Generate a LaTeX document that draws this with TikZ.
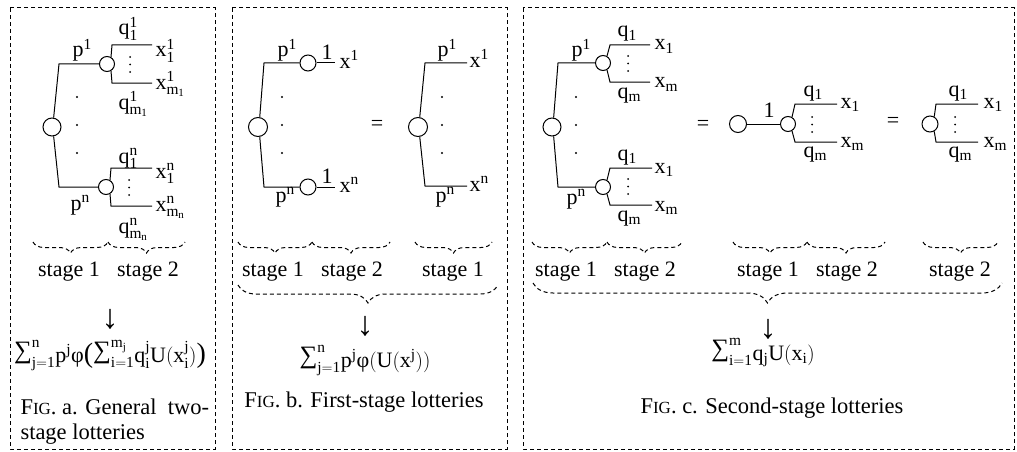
\documentclass[tikz,border=0pt]{standalone}
\usepackage{amsmath}
\usepackage{fontspec}
\setmainfont{Liberation Serif}
\setmathrm{Liberation Serif}
\usetikzlibrary{decorations.pathreplacing}
\newcommand\bigp[1]{\text{\fontsize{28}{28}\selectfont #1}}
\newcommand\SIG{\text{\raisebox{3.5pt}{\fontsize{25}{25}\selectfont ∑}}}
\newcommand\darrow{{\fontsize{34}{34}\selectfont ↓}}
\begin{document}
\begin{tikzpicture}[x=1pt,y=-1pt,line width=1pt,
  every node/.style={inner sep=0pt,font=\fontsize{22}{26}\selectfont},
  chance/.style={draw,circle,minimum size=#1,inner sep=0pt},
  panel/.style={draw,dash pattern=on 4pt off 3pt},
  dotn/.style={circle,fill,minimum size=2.4pt,inner sep=0pt},
  vdot/.style={circle,fill,minimum size=2pt,inner sep=0pt},
  bw/.style={anchor=base west},
  dbrace/.style={decorate,decoration={brace,mirror,amplitude=#1},dash pattern=on 4pt off 3pt},
  capt/.style={font=\fontsize{22.5}{25}\selectfont}]
\useasboundingbox (0,0) rectangle (1017,452);
% ---------------- panels
\draw[panel] (10,8) rectangle (215,449);
\draw[panel] (232,8) rectangle (507,449);
\draw[panel] (523,8) rectangle (1014,449);
% ================= Panel a
\node[chance=18pt] (a0) at (52,127) {};
\node[chance=15pt] (a1) at (107,64) {};
\node[chance=15pt] (a2) at (106,187) {};
\coordinate (a0t) at (59,64);
\coordinate (a0b) at (59,187);
\draw (a0.80) -- (a0t) -- (a1.west);
\draw (a0.-80) -- (a0b) -- (a2.west);
\coordinate (a1u) at (112,45); \coordinate (a1ue) at (152,45);
\coordinate (a1d) at (112,83); \coordinate (a1de) at (152,83);
\coordinate (a2u) at (111,168); \coordinate (a2ue) at (152,168);
\coordinate (a2d) at (111,206); \coordinate (a2de) at (152,206);
\draw (a1.60) -- (a1u) -- (a1ue);
\draw (a1.-60) -- (a1d) -- (a1de);
\draw (a2.60) -- (a2u) -- (a2ue);
\draw (a2.-60) -- (a2d) -- (a2de);
\node[bw] (ap1) at (72,57) {$\mathrm{p^1}$};
\node[bw] (apn) at (70,210) {$\mathrm{p^n}$};
\node[bw] (aq11) at (118,35) {$\mathrm{q^1_1}$};
\node[bw] (ax11) at (155,57) {$\mathrm{x^1_1}$};
\node[vdot] (av1a) at (130,57) {}; \node[vdot] (av1b) at (130,64.5) {}; \node[vdot] (av1c) at (130,72) {};
\node[bw] (axm1) at (155,89) {$\mathrm{x^1_{m_1}}$};
\node[bw] (aqm1) at (118,109) {$\mathrm{q^1_{m_1}}$};
\node[bw] (aq1n) at (118,163) {$\mathrm{q^n_1}$};
\node[bw] (ax1n) at (155,178) {$\mathrm{x^n_1}$};
\node[vdot] (avna) at (129,180) {}; \node[vdot] (avnb) at (129,187.5) {}; \node[vdot] (avnc) at (129,195) {};
\node[bw] (axmn) at (155,211) {$\mathrm{x^n_{m_n}}$};
\node[bw] (aqmn) at (118,233) {$\mathrm{q^n_{m_n}}$};
\node[dotn] (ad1) at (77,97) {};
\node[dotn] (ad2) at (77,125) {};
\node[dotn] (ad3) at (77,153) {};
\coordinate (abr1) at (33,242); \coordinate (abr2) at (108,242); \coordinate (abr3) at (185,242);
\draw[dbrace=11pt] (abr1) -- (abr2);
\draw[dbrace=11pt] (abr2) -- (abr3);
\node (as1) at (69,272) {stage 1};
\node (as2) at (148,272) {stage 2};
\node (aar) at (110,319) {\darrow};
\node[anchor=base] (afa) at (110,362) {$\SIG^{\mathrm{n}}_{\mathrm{j=1}}\mathrm{p^j}\text{φ}\bigp{(}\SIG^{\mathrm{m_j}}_{\mathrm{i=1}}\mathrm{q^j_i}\mathrm{U(x^j_i)}\bigp{)}$};
\node[capt,anchor=north west,align=left] (aca) at (20,398) {F{\fontsize{17}{17}\selectfont IG}. a. General\ \ two-\\stage lotteries};
% ================= Panel b
\node[chance=19pt] (b0) at (258,127) {};
\node[chance=16pt] (b1) at (308,63) {};
\node[chance=16pt] (b2) at (308,187) {};
\coordinate (b0t) at (264,63); \coordinate (b0b) at (264,187);
\coordinate (b1e) at (335,63); \coordinate (b2e) at (335,187);
\draw (b0.80) -- (b0t) -- (b1.west);
\draw (b0.-80) -- (b0b) -- (b2.west);
\draw (b1.east) -- (b1e);
\draw (b2.east) -- (b2e);
\node (b1o) at (327,52) {1};
\node (b2o) at (327,176) {1};
\node[bw] (bx1) at (339,68) {$\mathrm{x^1}$};
\node[bw] (bxn) at (339,192) {$\mathrm{x^n}$};
\node[bw] (bp1) at (277,57) {$\mathrm{p^1}$};
\node[bw] (bpn) at (275,202) {$\mathrm{p^n}$};
\node[dotn] (bd1) at (282,97) {};
\node[dotn] (bd2) at (282,125) {};
\node[dotn] (bd3) at (282,153) {};
\node (beq) at (377,125) {=};
\node[chance=19pt] (b3) at (418,127) {};
\coordinate (b3t) at (425,63); \coordinate (b3te) at (467,63);
\coordinate (b3b) at (425,186); \coordinate (b3be) at (467,186);
\draw (b3.80) -- (b3t) -- (b3te);
\draw (b3.-80) -- (b3b) -- (b3be);
\node[bw] (bx1r) at (469,67) {$\mathrm{x^1}$};
\node[bw] (bxnr) at (469,191) {$\mathrm{x^n}$};
\node[bw] (bp1r) at (437,57) {$\mathrm{p^1}$};
\node[bw] (bpnr) at (435,202) {$\mathrm{p^n}$};
\node[dotn] (bd4) at (442,97) {};
\node[dotn] (bd5) at (442,125) {};
\node[dotn] (bd6) at (442,153) {};
\coordinate (bbr1) at (238,242); \coordinate (bbr2) at (312,242); \coordinate (bbr3) at (390,242);
\coordinate (bbr4) at (415,242); \coordinate (bbr5) at (492,242);
\draw[dbrace=11pt] (bbr1) -- (bbr2);
\draw[dbrace=11pt] (bbr2) -- (bbr3);
\draw[dbrace=11pt] (bbr4) -- (bbr5);
\node (bs1) at (273,272) {stage 1};
\node (bs2) at (352,272) {stage 2};
\node (bs3) at (453,272) {stage 1};
\coordinate (bB1) at (238,285); \coordinate (bB2) at (498,285);
\draw[dbrace=18pt] (bB1) -- (bB2);
\node (bar) at (365,326) {\darrow};
\node[anchor=base] (bfa) at (365,367) {$\SIG^{\mathrm{n}}_{\mathrm{j=1}}\mathrm{p^j}\text{φ}\mathrm{(U(x^j))}$};
\node[capt] (bca) at (364,402) {F{\fontsize{17}{17}\selectfont IG}. b. First-stage lotteries};
% ================= Panel c
\node[chance=18pt] (c0) at (552,127) {};
\node[chance=15pt] (c1) at (603,63) {};
\node[chance=15pt] (c2) at (603,187) {};
\coordinate (c0t) at (558,63); \coordinate (c0b) at (558,187);
\draw (c0.80) -- (c0t) -- (c1.west);
\draw (c0.-80) -- (c0b) -- (c2.west);
\coordinate (c1u) at (610,45); \coordinate (c1ue) at (650,45);
\coordinate (c1d) at (610,82); \coordinate (c1de) at (650,82);
\coordinate (c2u) at (610,168); \coordinate (c2ue) at (652,168);
\coordinate (c2d) at (610,205); \coordinate (c2de) at (652,205);
\draw (c1.60) -- (c1u) -- (c1ue);
\draw (c1.-60) -- (c1d) -- (c1de);
\draw (c2.60) -- (c2u) -- (c2ue);
\draw (c2.-60) -- (c2d) -- (c2de);
\node[bw] (cp1) at (571,57) {$\mathrm{p^1}$};
\node[bw] (cpn) at (566,204) {$\mathrm{p^n}$};
\node[bw] (cq1a) at (617,37) {$\mathrm{q_1}$};
\node[bw] (cx1a) at (654,50) {$\mathrm{x_1}$};
\node[vdot] (cvaa) at (628,56) {}; \node[vdot] (cvab) at (628,63.5) {}; \node[vdot] (cvac) at (628,71) {};
\node[bw] (cxma) at (654,88) {$\mathrm{x_m}$};
\node[bw] (cqma) at (617,98) {$\mathrm{q_m}$};
\node[bw] (cq1b) at (617,160) {$\mathrm{q_1}$};
\node[bw] (cx1b) at (654,173) {$\mathrm{x_1}$};
\node[vdot] (cvba) at (628,179) {}; \node[vdot] (cvbb) at (628,186.5) {}; \node[vdot] (cvbc) at (628,194) {};
\node[bw] (cxmb) at (654,211) {$\mathrm{x_m}$};
\node[bw] (cqmb) at (617,221) {$\mathrm{q_m}$};
\node[dotn] (cd1) at (576,97) {};
\node[dotn] (cd2) at (576,125) {};
\node[dotn] (cd3) at (576,153) {};
\node (ceq1) at (703,125) {=};
\node[chance=17pt] (c3) at (738,124) {};
\node[chance=15pt] (c4) at (788,124) {};
\draw (c3.east) -- (c4.west);
\node (c3o) at (769,110) {1};
\coordinate (c4u) at (795,104); \coordinate (c4ue) at (837,104);
\coordinate (c4d) at (795,142); \coordinate (c4de) at (837,142);
\draw (c4.60) -- (c4u) -- (c4ue);
\draw (c4.-60) -- (c4d) -- (c4de);
\node[bw] (cq1c) at (803,96) {$\mathrm{q_1}$};
\node[bw] (cx1c) at (840,108) {$\mathrm{x_1}$};
\node[vdot] (cvca) at (812,117) {}; \node[vdot] (cvcb) at (812,124.5) {}; \node[vdot] (cvcc) at (812,132) {};
\node[bw] (cxmc) at (840,147) {$\mathrm{x_m}$};
\node[bw] (cqmc) at (803,157) {$\mathrm{q_m}$};
\node (ceq2) at (893,122) {=};
\node[chance=16pt] (c5) at (930,124) {};
\coordinate (c5u) at (936,104); \coordinate (c5ue) at (978,104);
\coordinate (c5d) at (936,142); \coordinate (c5de) at (978,142);
\draw (c5.60) -- (c5u) -- (c5ue);
\draw (c5.-60) -- (c5d) -- (c5de);
\node[bw] (cq1d) at (948,96) {$\mathrm{q_1}$};
\node[bw] (cx1d) at (983,108) {$\mathrm{x_1}$};
\node[vdot] (cvda) at (955,117) {}; \node[vdot] (cvdb) at (955,124.5) {}; \node[vdot] (cvdc) at (955,132) {};
\node[bw] (cxmd) at (983,147) {$\mathrm{x_m}$};
\node[bw] (cqmd) at (948,157) {$\mathrm{q_m}$};
\coordinate (cbr1) at (532,242); \coordinate (cbr2) at (607,242); \coordinate (cbr3) at (682,242);
\coordinate (cbr4) at (733,242); \coordinate (cbr5) at (807,242); \coordinate (cbr6) at (885,242);
\coordinate (cbr7) at (923,242); \coordinate (cbr8) at (998,242);
\draw[dbrace=11pt] (cbr1) -- (cbr2);
\draw[dbrace=11pt] (cbr2) -- (cbr3);
\draw[dbrace=11pt] (cbr4) -- (cbr5);
\draw[dbrace=11pt] (cbr5) -- (cbr6);
\draw[dbrace=11pt] (cbr7) -- (cbr8);
\node (cs1) at (566,272) {stage 1};
\node (cs2) at (645,272) {stage 2};
\node (cs3) at (768,272) {stage 1};
\node (cs4) at (847,272) {stage 2};
\node (cs5) at (960,272) {stage 2};
\coordinate (cB1) at (533,283); \coordinate (cB2) at (1002,283);
\draw[dbrace=20pt] (cB1) -- (cB2);
\node (car) at (768,329) {\darrow};
\node[anchor=base] (cfa) at (763,360) {$\SIG^{\mathrm{m}}_{\mathrm{i=1}}\mathrm{q_jU(x_i)}$};
\node[capt] (cca) at (772,408) {F{\fontsize{17}{17}\selectfont IG}. c. Second-stage lotteries};
\end{tikzpicture}
\end{document}
